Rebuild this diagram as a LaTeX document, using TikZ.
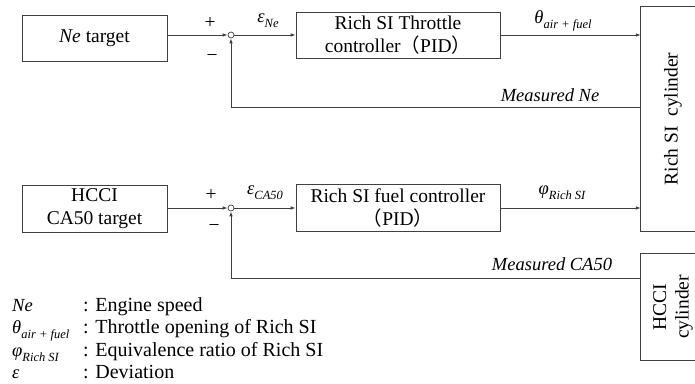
\documentclass[tikz,border=0pt]{standalone}
\usepackage{fontspec}
\setmainfont{Liberation Serif}
\newfontfamily\cjk{Noto Sans CJK JP}
\usetikzlibrary{arrows.meta}
\usetikzlibrary{calc}
\usetikzlibrary{positioning}

\newcommand{\lowsub}[1]{\raisebox{-0.28em}{\fontsize{12.5}{14}\selectfont #1}}

\begin{document}
\begin{tikzpicture}[
        x=1pt, y=-1pt,
        >={Latex[length=5pt,width=3.6pt]},
        every node/.style={font=\fontsize{19.5}{22.5}\selectfont},
        block/.style={draw=black!75, line width=0.9pt, align=center, inner sep=0pt},
        sumpt/.style={draw=black!75, line width=0.7pt, circle, minimum size=6pt, inner sep=0pt},
        sig/.style={draw=black!75, line width=0.9pt},
        sym/.style={font=\fontsize{18.5}{22}\selectfont\itshape},
        legend/.style={anchor=base west, inner sep=0pt},
        legtext/.style={legend, font=\fontsize{20}{22}\selectfont}
    ]
    \useasboundingbox (0,0) rectangle (695,383);

    % upper loop
    \node[block, minimum width=145pt, minimum height=46pt] (NeT) at (94.5,38) {\textit{Ne} target};
    \node[sumpt] (SA) at (231,35) {};
    \node[block, minimum width=204pt, minimum height=46pt] (TC) at (398,35)
        {Rich SI Throttle\\controller{\cjk （}PID{\cjk ）}};

    % lower loop
    \node[block, minimum width=145pt, minimum height=47pt] (CaT) at (94.5,208.5) {HCCI\\CA50 target};
    \node[sumpt] (SB) at (231,208) {};
    \node[block, minimum width=204pt, minimum height=47pt] (FC) at (398,208)
        {Rich SI fuel controller\\{\cjk （}PID{\cjk ）}};

    % cylinders, open to the right
    \node[minimum width=64pt, minimum height=224pt, inner sep=0pt] (RS) at (673,119) {};
    \node[rotate=90] at (RS) {Rich SI\ \ cylinder};
    \draw[sig] (RS.north east) -- (RS.north west) -- (RS.south west) -- (RS.south east);

    \node[minimum width=64pt, minimum height=106pt, inner sep=0pt] (HC) at (673,307) {};
    \node[rotate=90, align=center] at (HC) {HCCI\\cylinder};
    \draw[sig] (HC.north east) -- (HC.north west) -- (HC.south west) -- (HC.south east);

    \coordinate (FA) at ($(RS.north west)+(0,101)$);
    \coordinate (FB) at ($(HC.north west)+(0,25)$);

    % signals
    \draw[sig, ->] (NeT.east |- SA) -- (SA.west);
    \draw[sig, ->] (SA.east) -- (TC.west);
    \draw[sig, ->] (TC.east) -- (RS.west |- TC);
    \draw[sig, ->] (FA) -| (SA.south);

    \draw[sig, ->] (CaT.east |- SB) -- (SB.west);
    \draw[sig, ->] (SB.east) -- (FC.west);
    \draw[sig, ->] (FC.east) -- (RS.west |- FC);
    \draw[sig, ->] (FB) -| (SB.south);

    % signs and labels
    \node at (210,23) {+};
    \node at (212,58) {−};
    \node at (211,195) {+};
    \node at (214,228) {−};

    \node[sym] at (268,21) {ε\lowsub{Ne}};
    \node[sym] at (265,193) {ε\lowsub{CA50}};
    \node[sym] at (563,21) {θ\lowsub{air + fuel}};
    \node[sym] at (562,193) {φ\lowsub{Rich SI}};
    \node[sym] at (550,95) {Measured Ne};
    \node[sym] at (552,264) {Measured CA50};

    % legend
    \node[legend, sym] at (12,311) {Ne};
    \node[legend, sym] at (12,333) {θ\lowsub{air + fuel}};
    \node[legend, sym] at (12,356) {φ\lowsub{Rich SI}};
    \node[legend, sym] at (12,378) {ε};
    \node[legtext] at (83,311) {: Engine speed};
    \node[legtext] at (83,333) {: Throttle opening of Rich SI};
    \node[legtext] at (83,356) {: Equivalence ratio of Rich SI};
    \node[legtext] at (83,378) {: Deviation};

\end{tikzpicture}
\end{document}
